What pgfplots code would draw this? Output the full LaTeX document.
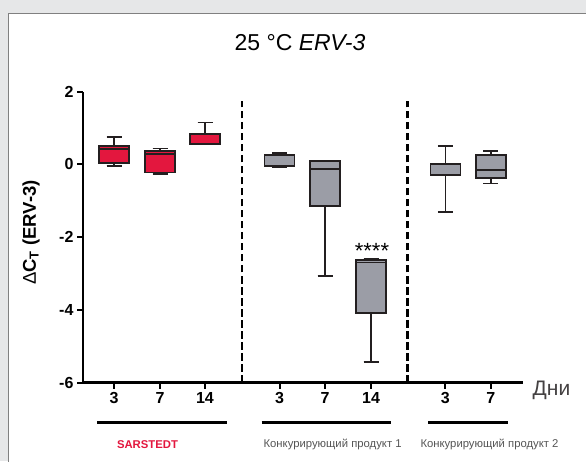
\documentclass[border=0pt]{standalone}
\usepackage{fontspec}
\setmainfont{Liberation Sans}
\usepackage{pgfplots}
\pgfplotsset{compat=1.18}
\usepgfplotslibrary{statistics}

\definecolor{bgGray}{HTML}{E6E7E8}
\definecolor{frameGray}{HTML}{808080}
\definecolor{sRed}{HTML}{E3173E}
\definecolor{boxGray}{HTML}{9B9DA6}
\definecolor{edge}{HTML}{231F20}
\definecolor{lblGray}{HTML}{555555}

\begin{document}
\begin{tikzpicture}[x=1pt,y=1pt]
\useasboundingbox (0,0) rectangle (586,461);
\clip (0,0) rectangle (586,461);
\fill[bgGray] (0,0) rectangle (586,461);
\filldraw[fill=white, draw=frameGray, line width=1.6pt] (8.6,-20) rectangle (620,447.6);

\begin{axis}[
    at={(83pt,78.5pt)}, anchor=south west,
    scale only axis, width=440pt, height=291pt,
    xmin=83, xmax=523, ymin=-6, ymax=2,
    axis lines=left,
    x axis line style={-, line width=2.6pt},
    y axis line style={-, line width=2.2pt},
    ytick={-6,-4,-2,0,2}, yticklabels={-6,-4,-2,0,2},
    xtick={114,160,205,279.5,325,371,445.4,490.7},
    xticklabels={3,7,14,3,7,14,3,7},
    tick align=outside,
    major tick length=6pt,
    every tick/.style={black, line width=2pt},
    ticklabel style={font=\bfseries\fontsize{16}{16}\selectfont},
    boxplot/draw direction=y,
    clip=false,
]
% SARSTEDT
\addplot[boxplot prepared={draw position=114, lower whisker=-0.04, lower quartile=0.03,
    median=0.41, upper quartile=0.51, upper whisker=0.74, box extend=30, whisker extend=15},
    draw=edge, fill=sRed, line width=1.7pt] coordinates {};
\addplot[boxplot prepared={draw position=160, lower whisker=-0.27, lower quartile=-0.23,
    median=0.29, upper quartile=0.37, upper whisker=0.43, box extend=30, whisker extend=15},
    draw=edge, fill=sRed, line width=1.7pt] coordinates {};
\addplot[boxplot prepared={draw position=205, lower whisker=0.54, lower quartile=0.56,
    median=0.56, upper quartile=0.84, upper whisker=1.15, box extend=30, whisker extend=15},
    draw=edge, fill=sRed, line width=1.7pt] coordinates {};
% product 1
\addplot[boxplot prepared={draw position=279.5, lower whisker=-0.07, lower quartile=-0.05,
    median=-0.04, upper quartile=0.25, upper whisker=0.30, box extend=30, whisker extend=15},
    draw=edge, fill=boxGray, line width=1.7pt] coordinates {};
\addplot[boxplot prepared={draw position=325, lower whisker=-3.07, lower quartile=-1.15,
    median=-0.13, upper quartile=0.09, upper whisker=0.10, box extend=30, whisker extend=15},
    draw=edge, fill=boxGray, line width=1.7pt] coordinates {};
\addplot[boxplot prepared={draw position=371, lower whisker=-5.43, lower quartile=-4.08,
    median=-2.70, upper quartile=-2.63, upper whisker=-2.60, box extend=30, whisker extend=15},
    draw=edge, fill=boxGray, line width=1.7pt] coordinates {};
% product 2
\addplot[boxplot prepared={draw position=445.4, lower whisker=-1.32, lower quartile=-0.30,
    median=-0.01, upper quartile=0.02, upper whisker=0.50, box extend=30, whisker extend=15},
    draw=edge, fill=boxGray, line width=1.7pt] coordinates {};
\addplot[boxplot prepared={draw position=490.7, lower whisker=-0.53, lower quartile=-0.37,
    median=-0.15, upper quartile=0.26, upper whisker=0.36, box extend=30, whisker extend=15},
    draw=edge, fill=boxGray, line width=1.7pt] coordinates {};
% separators
\addplot[black, line width=2.8pt, dash pattern=on 7.5pt off 3.5pt] coordinates {(242,-6) (242,1.75)};
\addplot[black, line width=2.8pt, dash pattern=on 7.5pt off 3.5pt] coordinates {(407.3,-6) (407.3,1.75)};
\node[anchor=base, inner sep=0pt] at (axis cs:372,-2.58) {\fontsize{22}{22}\selectfont ****};
\end{axis}

\node at (300,418) {\fontsize{23}{23}\selectfont 25 °C \textit{ERV-3}};
\node[rotate=90] at (31,228.5) {\bfseries\fontsize{18.5}{18.5}\selectfont {\mdseries Δ}C\textsubscript{T} (ERV-3)};
\node[text=edge!85] at (551.5,70.5) {\fontsize{21}{21}\selectfont Дни};
\draw[black, line width=3.7pt] (97.3,38.5) -- (226.7,38.5);
\draw[black, line width=3.7pt] (261.6,38.5) -- (390.5,38.5);
\draw[black, line width=3.7pt] (428,38.5) -- (507.5,38.5);
\node[text=sRed] at (147.5,16.5) {\bfseries\fontsize{11.3}{12}\selectfont SARSTEDT};
\node[text=lblGray] at (332.6,16.5) {\fontsize{11.3}{12}\selectfont Конкурирующий продукт 1};
\node[text=lblGray] at (489.5,16.5) {\fontsize{11.3}{12}\selectfont Конкурирующий продукт 2};
\end{tikzpicture}
\end{document}
